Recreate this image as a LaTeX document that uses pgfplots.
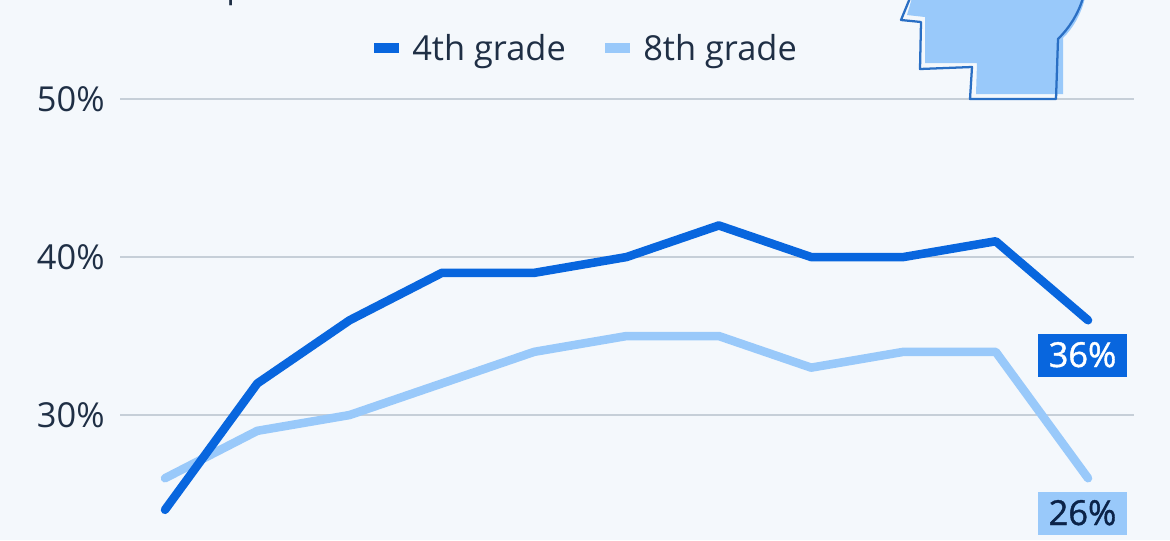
\documentclass[border=0pt]{standalone}
\usepackage{pgfplots}
\pgfplotsset{compat=1.18}
\usepackage{fontspec}
\setmainfont{Open Sans}
\newfontfamily\medfont[FakeBold=1.2]{Open Sans}
\definecolor{bg}{HTML}{F4F8FC}
\definecolor{blueA}{HTML}{0866DE}
\definecolor{blueB}{HTML}{99C9FA}
\definecolor{gridc}{HTML}{C6CFD8}
\definecolor{txt}{HTML}{1F2F45}
\definecolor{navy}{HTML}{0B2348}
\definecolor{headline}{HTML}{2A6FC4}
\pgfplotstableread{
x a b
0 24 26
1 32 29
2 36 30
3 39 32
4 39 34
5 40 35
6 42 35
7 40 33
8 40 34
9 41 34
10 36 26
}\grades
\begin{document}
\begin{tikzpicture}[x=0.75pt,y=-0.75pt]
\path[use as bounding box,fill=bg] (0,0) rectangle (1170,540);
\clip (0,0) rectangle (1170,540);
\begin{axis}[
  at={(90pt,-405pt)},anchor=south west,
  scale only axis,width=760.5pt,height=405pt,
  xmin=-0.4875,xmax=10.498,ymin=22.09,ymax=56.27,
  axis line style={draw=none},
  xtick=\empty,
  ytick={30,40,50},
  yticklabels={30\%,40\%,50\%},
  major tick length=0pt,
  ymajorgrids,
  grid style={gridc,line width=1.1pt},
  yticklabel style={text=txt,font=\fontsize{25.8}{26}\selectfont,xshift=-8pt},
  clip=false,
]
\addplot[blueB,line width=6.4pt,line cap=round,line join=round] table[x=x,y=b] {\grades};
\addplot[blueA,line width=6.4pt,line cap=round,line join=round] table[x=x,y=a] {\grades};
\end{axis}
% head illustration
\fill[blueB] (912,-2) -- (907,15) -- (925,17) -- (925,63) -- (977,63) -- (976,94) -- (1063,94) -- (1063,38) .. controls (1074,27) and (1081,14) .. (1085,-2) -- cycle;
\draw[headline,line width=1.7pt,line join=round] (910,-2) -- (901,20) -- (921,22) -- (920,69) -- (972,67) -- (970,99) -- (1056,99) -- (1058,39) .. controls (1070,27) and (1078,14) .. (1083,-2);
% cropped title remnant
\node[text=txt,font=\fontsize{25.8}{26}\selectfont,anchor=base] at (237,-3) {p};
% legend
\fill[blueA] (374,43) rectangle (399,53);
\node[text=txt,font=\fontsize{25.8}{26}\selectfont,anchor=base west,inner sep=0pt] at (412,60) {4th grade};
\fill[blueB] (605,43) rectangle (630,53);
\node[text=txt,font=\fontsize{25.8}{26}\selectfont,anchor=base west,inner sep=0pt] at (643,60) {8th grade};
% end labels
\fill[blueA] (1038,334) rectangle (1127,377);
\node[text=white,font=\fontsize{25.8}{26}\selectfont\medfont,anchor=base,inner sep=0pt] at (1082.5,367) {36\%};
\fill[blueB] (1038,492) rectangle (1127,535);
\node[text=navy,font=\fontsize{25.8}{26}\selectfont\medfont,anchor=base,inner sep=0pt] at (1082.5,525) {26\%};
\end{tikzpicture}
\end{document}
